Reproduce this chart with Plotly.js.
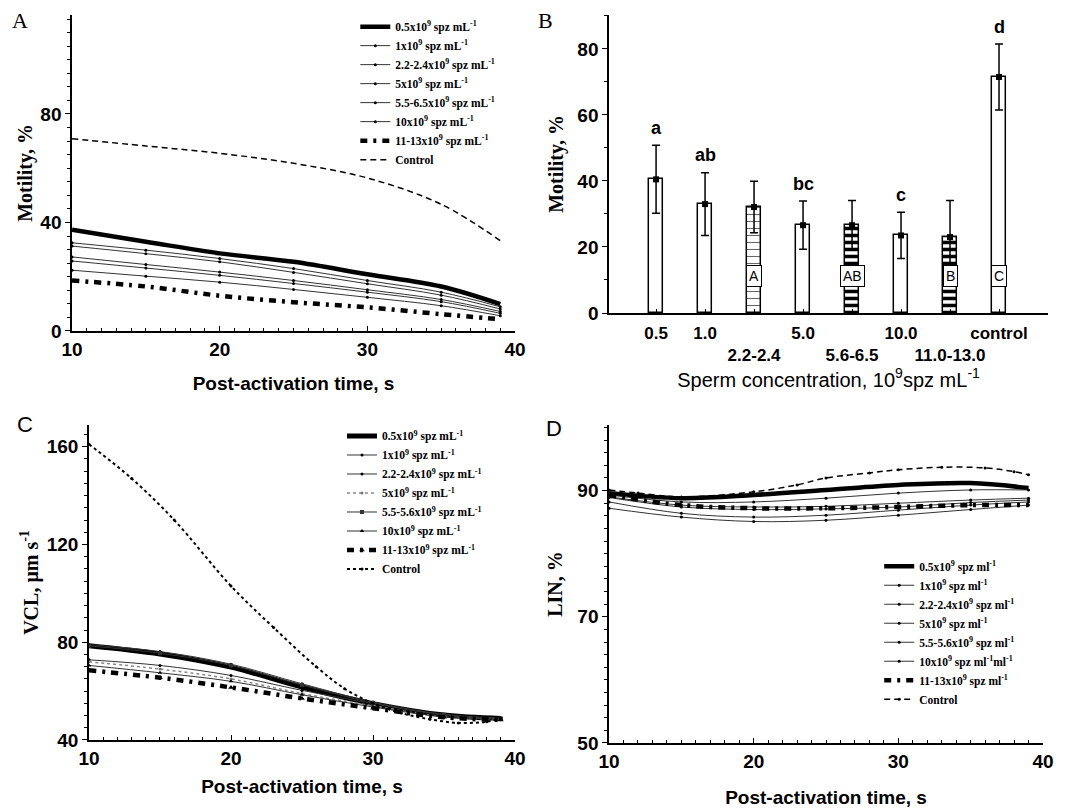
<!DOCTYPE html>
<html><head><meta charset="utf-8">
<script src="https://cdn.plot.ly/plotly-3.0.1.min.js"></script>
<style>html,body{margin:0;padding:0;background:#fff}#chart{width:1067px;height:809px}</style>
</head><body><div id="chart"></div>
<script>
// ---------- Panel A: motility (%) vs post-activation time ----------
const timeA = [10, 15, 20, 25, 30, 35, 39];
const motA_05 = [37.3, 32.9, 28.6, 25.5, 20.9, 16.4, 9.9];
const motA_1 = [32.5, 29.8, 26.7, 23.0, 18.6, 14.3, 8.9];
const motA_22 = [31.3, 28.5, 25.5, 21.6, 17.4, 13.2, 8.1];
const motA_5 = [27.3, 24.5, 21.7, 18.6, 15.2, 11.6, 7.2];
const motA_55 = [25.8, 23.2, 20.5, 17.5, 14.3, 10.8, 6.5];
const motA_10 = [22.4, 20.2, 18.0, 15.3, 12.4, 9.3, 5.6];
const motA_11 = [18.6, 16.4, 13.0, 10.6, 8.7, 6.2, 4.3];
const motA_ctrl = [70.9, 68.2, 65.5, 61.8, 56.4, 46.7, 33.3];
const namesA = ['0.5x10<sup>9</sup> spz mL<sup>-1</sup>', '1x10<sup>9</sup> spz mL<sup>-1</sup>',
  '2.2-2.4x10<sup>9</sup> spz mL<sup>-1</sup>', '5x10<sup>9</sup> spz mL<sup>-1</sup>',
  '5.5-6.5x10<sup>9</sup> spz mL<sup>-1</sup>', '10x10<sup>9</sup> spz mL<sup>-1</sup>',
  '11-13x10<sup>9</sup> spz mL<sup>-1</sup>', 'Control'];

// ---------- Panel B: motility by sperm concentration ----------
const catsB = ['0.5', '1.0', '2.2-2.4', '5.0', '5.6-6.5', '10.0', '11.0-13.0', 'control'];
const labelRowB = [0, 0, 1, 0, 1, 0, 1, 0];
const motB = [40.5, 33.0, 32.1, 26.6, 26.6, 23.5, 23.0, 71.5];
const errB = [10.3, 9.5, 7.8, 7.3, 7.5, 7.0, 11.1, 10.0];
const sigLetters = ['a', 'ab', '', 'bc', '', 'c', '', 'd'];
const groupLetters = ['', '', 'A', '', 'AB', '', 'B', 'C'];

// ---------- Panel C: VCL ----------
const timeC = [10, 15, 20, 25, 30, 35, 39];
const vcl_05 = [78.6, 75.2, 69.8, 61.7, 54.9, 50.2, 48.8];
const vcl_1 = [79.0, 76.2, 71.0, 63.0, 55.5, 50.5, 49.0];
const vcl_22 = [72.8, 70.5, 66.4, 60.3, 54.9, 50.2, 48.5];
const vcl_5 = [72.0, 69.0, 65.0, 59.0, 54.0, 49.5, 48.5];
const vcl_55 = [78.5, 75.5, 70.5, 62.5, 55.2, 50.3, 48.8];
const vcl_10 = [70.5, 67.5, 64.0, 58.5, 53.5, 49.5, 48.5];
const vcl_11 = [68.5, 65.5, 61.5, 57.0, 53.0, 49.3, 48.2];
const timeCtrlC = [10, 13, 16, 20, 23, 26, 28, 30, 32, 34, 36, 38, 39];
const vcl_ctrl = [161, 147, 130, 103, 86, 70, 61, 55, 51, 48.5, 47, 47.5, 49];
const namesC = ['0.5x10<sup>9</sup> spz mL<sup>-1</sup>', '1x10<sup>9</sup> spz mL<sup>-1</sup>',
  '2.2-2.4x10<sup>9</sup> spz mL<sup>-1</sup>', '5x10<sup>9</sup> spz mL<sup>-1</sup>',
  '5.5-5.6x10<sup>9</sup> spz mL<sup>-1</sup>', '10x10<sup>9</sup> spz mL<sup>-1</sup>',
  '11-13x10<sup>9</sup> spz mL<sup>-1</sup>', 'Control'];

// ---------- Panel D: LIN ----------
const timeD = [10, 15, 20, 25, 30, 35, 39];
const lin_05 = [89.6, 88.8, 89.3, 90.1, 90.9, 91.2, 90.4];
const lin_1 = [89.3, 88.2, 88.2, 88.8, 89.6, 90.1, 90.1];
const lin_22 = [89.0, 87.7, 87.4, 87.5, 88.0, 88.5, 88.8];
const lin_5 = [88.9, 87.4, 87.0, 87.1, 87.4, 88.1, 88.5];
const lin_55 = [88.2, 86.4, 85.8, 86.1, 86.9, 87.7, 88.2];
const lin_10 = [87.2, 85.8, 85.1, 85.3, 86.1, 87.0, 87.7];
const lin_11 = [89.3, 87.7, 87.2, 87.2, 87.4, 87.7, 87.7];
const timeCtrlD = [10, 12, 15, 20, 23, 25, 28, 30, 33, 36, 38, 39];
const lin_ctrl = [90.1, 89.6, 89.0, 89.8, 90.9, 92.0, 92.8, 93.3, 93.7, 93.6, 93.0, 92.5];
const namesD = ['0.5x10<sup>9</sup> spz ml<sup>-1</sup>', '1x10<sup>9</sup> spz ml<sup>-1</sup>',
  '2.2-2.4x10<sup>9</sup> spz ml<sup>-1</sup>', '5x10<sup>9</sup> spz ml<sup>-1</sup>',
  '5.5-5.6x10<sup>9</sup> spz ml<sup>-1</sup>', '10x10<sup>9</sup> spz ml<sup>-1</sup>ml<sup>-1</sup>',
  '11-13x10<sup>9</sup> spz ml<sup>-1</sup>', 'Control'];

// ---------- styles ----------
const SANS = 'Liberation Sans, Arial, sans-serif';
const SERIF = 'Liberation Serif, Times New Roman, serif';
const thick = {color: '#000', width: 4.5, dash: 'solid'};
const thin = {color: '#333', width: 1, dash: 'solid'};
const thickDash = {color: '#000', width: 4.5, dash: '7px,6px,3px,6px'};
const smallDot = {size: 3, color: '#000', symbol: 'circle'};

function line(x, y, name, xa, ya, leg, ln, mk) {
  const t = {type: 'scatter', x: x, y: y, name: name, xaxis: xa, yaxis: ya, legend: leg,
    mode: mk ? 'lines+markers' : 'lines', line: Object.assign({shape: 'spline', smoothing: 1}, ln)};
  if (mk) t.marker = mk;
  return t;
}

const data = [];
// A
const seriesA = [motA_05, motA_1, motA_22, motA_5, motA_55, motA_10, motA_11];
const stylesA = [[thick, null], [thin, smallDot], [thin, smallDot], [thin, smallDot], [thin, smallDot], [thin, smallDot], [thickDash, null]];
seriesA.forEach((s, i) => data.push(line(timeA, s, namesA[i], 'x', 'y', 'legend', stylesA[i][0], stylesA[i][1])));
data.push(line(timeA, motA_ctrl, namesA[7], 'x', 'y', 'legend', {color: '#000', width: 1.5, dash: '6px,4px'}, null));

// B bars
const idxB = catsB.map((c, i) => i);
data.push({type: 'bar', x: idxB, y: motB, xaxis: 'x2', yaxis: 'y2', showlegend: false, width: 0.29,
  marker: {color: '#fff', line: {color: '#000', width: 1.5},
    pattern: {shape: ['', '', '-', '', '-', '', '-', ''], size: [7, 7, 7, 7, 7, 7, 7, 7],
      solidity: [0.1, 0.1, 0.12, 0.1, 0.5, 0.1, 0.5, 0.1], fgcolor: ['#000', '#000', '#444', '#000', '#000', '#000', '#000', '#000'],
      bgcolor: '#fff', fillmode: 'replace'}}});
data.push({type: 'scatter', mode: 'markers', x: idxB, y: motB, xaxis: 'x2', yaxis: 'y2', showlegend: false,
  marker: {symbol: 'square', size: 6, color: '#000'},
  error_y: {type: 'data', array: errB, visible: true, color: '#000', thickness: 1.5, width: 4}});

// C
const seriesC = [vcl_05, vcl_1, vcl_22, vcl_5, vcl_55, vcl_10, vcl_11];
const stylesC = [[Object.assign({}, thick, {width: 5}), null], [thin, smallDot], [thin, smallDot],
  [{color: '#888', width: 1.5, dash: 'dot'}, {size: 3, color: '#777'}],
  [thin, {size: 4, symbol: 'square', color: '#333'}], [thin, {size: 4, symbol: 'triangle-up', color: '#000'}],
  [thickDash, {size: 5, symbol: 'triangle-up', color: '#000'}]];
seriesC.forEach((s, i) => data.push(line(timeC, s, namesC[i], 'x3', 'y3', 'legend2', stylesC[i][0], stylesC[i][1])));
data.push(line(timeCtrlC, vcl_ctrl, namesC[7], 'x3', 'y3', 'legend2', {color: '#000', width: 2, dash: 'dot'}, {size: 3, color: '#000'}));

// D
const seriesD = [lin_05, lin_1, lin_22, lin_5, lin_55, lin_10, lin_11];
const stylesD = [[thick, null], [thin, smallDot], [thin, smallDot], [thin, smallDot], [thin, smallDot], [thin, smallDot], [thickDash, null]];
seriesD.forEach((s, i) => data.push(line(timeD, s, namesD[i], 'x4', 'y4', 'legend3', stylesD[i][0], stylesD[i][1])));
data.push(line(timeCtrlD, lin_ctrl, namesD[7], 'x4', 'y4', 'legend3', {color: '#000', width: 1.5, dash: '6px,4px'}, {size: 3, color: '#000'}));

// ---------- axes ----------
const tickFont = {family: SANS, size: 19, weight: 'bold', color: '#000'};
function xTime(domain, anchor, standoff) {
  return {domain: domain, anchor: anchor, range: [10, 40], tick0: 10, dtick: 10, showline: true, linecolor: '#000', linewidth: 1.5,
    ticks: 'inside', ticklen: 5, tickcolor: '#000', minor: {dtick: 1, ticks: 'inside', ticklen: 3, tickcolor: '#000'},
    showgrid: false, zeroline: false, tickfont: tickFont,
    title: {text: 'Post-activation time, s', font: {family: SANS, size: 19, weight: 'bold', color: '#000'}, standoff: standoff}};
}
function yAx(domain, anchor, range, dtick, tick0, minorDt, title, standoff) {
  return {domain: domain, anchor: anchor, range: range, dtick: dtick, tick0: tick0, showline: true, linecolor: '#000', linewidth: 1.5,
    ticks: 'outside', ticklen: 5, tickcolor: '#000', minor: {dtick: minorDt, ticks: 'outside', ticklen: 3, tickcolor: '#000'},
    showgrid: false, zeroline: false, tickfont: tickFont,
    title: {text: title, font: {family: SERIF, size: 20, weight: 'bold', color: '#000'}, standoff: standoff}};
}

const legendBase = {bgcolor: 'rgba(0,0,0,0)', font: {family: SERIF, size: 11.5, weight: 'bold', color: '#000'},
  xanchor: 'left', yanchor: 'top', tracegroupgap: 0, itemwidth: 30};

const annotations = [];
// panel letters
[['A', 10, 6, SERIF], ['B', 536, 6, SERIF], ['C', 15, 410, SANS], ['D', 544, 414, SANS]].forEach(p => {
  annotations.push({text: p[0], xref: 'paper', yref: 'paper', x: p[1] / 1067, y: 1 - p[2] / 809, xanchor: 'left', yanchor: 'top',
    showarrow: false, font: {family: p[3], size: 22, color: '#000'}});
});
// B significance letters and group boxes
catsB.forEach((c, i) => {
  if (sigLetters[i]) annotations.push({text: sigLetters[i], xref: 'x2', yref: 'y2', x: i, y: motB[i] + errB[i] + 5.3,
    showarrow: false, font: {family: SANS, size: 18, weight: 'bold', color: '#000'}});
  if (groupLetters[i]) annotations.push({text: groupLetters[i], xref: 'x2', yref: 'y2', x: i, y: 11.3,
    showarrow: false, bgcolor: '#fff', bordercolor: '#000', borderwidth: 1, borderpad: 2,
    font: {family: SANS, size: 14, color: '#000'}});
});

const layout = {
  width: 1067, height: 809, margin: {l: 0, r: 0, t: 0, b: 0}, paper_bgcolor: '#fff', plot_bgcolor: '#fff',
  font: {family: SANS, color: '#000'}, bargap: 0,
  xaxis: xTime([0.0675, 0.4827], 'y', 18),
  yaxis: yAx([0.5909, 0.9815], 'x', [0, 116.5], 40, 0, 5, 'Motility, %', 2),
  xaxis2: {domain: [0.5708, 0.9822], anchor: 'y2', range: [-0.96, 8.0], tickvals: idxB, tickangle: 0, ticklabelstandoff: 4,
    ticktext: catsB.map((c, i) => labelRowB[i] ? '&nbsp;<br>' + c : c),
    showline: true, linecolor: '#000', linewidth: 1.5, ticks: 'inside', ticklen: 4, tickcolor: '#000', showgrid: false, zeroline: false,
    tickfont: {family: SANS, size: 17, weight: 'bold', color: '#000'},
    title: {text: 'Sperm concentration, 10<sup>9</sup>spz mL<sup>-1</sup>', font: {family: SANS, size: 20, color: '#000'}, standoff: 8}},
  yaxis2: yAx([0.6131, 0.9815], 'x2', [0, 90.3], 20, 0, 10, 'Motility, %', 8),
  xaxis3: xTime([0.0834, 0.4827], 'y3', 12),
  yaxis3: yAx([0.0853, 0.4747], 'x3', [40, 168.9], 40, 40, 5, 'VCL, μm s<sup>-1</sup>', 3),
  xaxis4: xTime([0.5708, 0.9775], 'y4', 20),
  yaxis4: yAx([0.0816, 0.4747], 'x4', [50, 100.4], 20, 50, 2, 'LIN, %', 9),
  legend: Object.assign({}, legendBase, {x: 0.333, y: 0.985}),
  legend2: Object.assign({}, legendBase, {x: 0.3205, y: 0.479}),
  legend3: Object.assign({}, legendBase, {x: 0.824, y: 0.318}),
  annotations: annotations
};

Plotly.newPlot('chart', data, layout, {displayModeBar: false, responsive: false});
</script></body></html>
